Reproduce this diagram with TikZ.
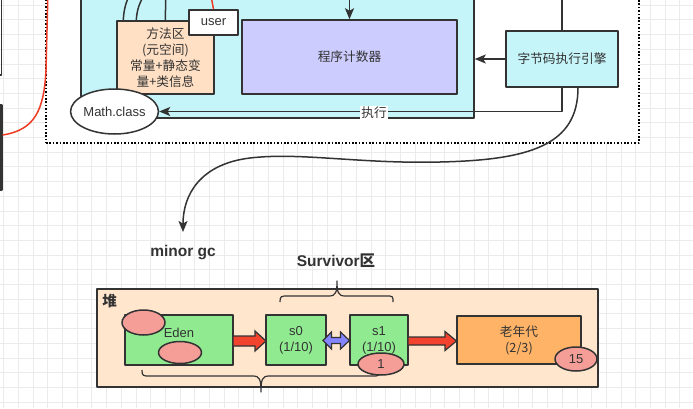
\documentclass[tikz,border=0pt]{standalone}
\usepackage{fontspec}
\setmainfont{Liberation Sans}
\newfontfamily\cjk{Noto Sans CJK SC}
\usetikzlibrary{arrows.meta,shapes.geometric}

\definecolor{ink}{HTML}{333333}
\definecolor{txt}{HTML}{333333}
\definecolor{gridgray}{HTML}{EBEBEB}
\definecolor{runcyan}{HTML}{C6F5F9}
\definecolor{peach}{HTML}{FFE0C4}
\definecolor{heapbg}{HTML}{FFE6CC}
\definecolor{lavender}{HTML}{CCCCFF}
\definecolor{edengreen}{HTML}{90EB90}
\definecolor{blob}{HTML}{F59E98}
\definecolor{oldorange}{HTML}{FFB366}
\definecolor{arrowred}{HTML}{F2432F}
\definecolor{arrowblue}{HTML}{8585FF}
\definecolor{linkred}{HTML}{EE3B24}

\tikzset{
    gridline/.style={draw=gridgray,line width=0.7pt},
    box/.style={draw=ink,line width=1.5pt,inner sep=0pt,align=center,text=txt,
        font=\fontsize{13}{16}\selectfont},
    zhbox/.style={box,font=\cjk\fontsize{12.7}{16}\selectfont},
    blobnode/.style={ellipse,box,fill=blob},
    link/.style={draw=ink,line width=1.5pt},
    redlink/.style={draw=linkred,line width=1.5pt},
    tip/.style={-{Stealth[length=11pt,width=9pt,inset=2.5pt]}},
    blockarrow/.style={draw=ink,line width=1.2pt,line join=miter},
    title/.style={text=txt,inner sep=1pt,font=\bfseries\fontsize{15.5}{18}\selectfont},
    dotframe/.style={draw=black,fill=white,line width=1.6pt,
        dash pattern=on 1.6pt off 1.8pt,inner sep=0pt}
}

\begin{document}
\begin{tikzpicture}[x=1pt,y=-1pt,line join=round]
    \useasboundingbox (0,0) rectangle (693,408);
    \clip (0,0) rectangle (693,408);
    \fill[white] (0,0) rectangle (693,408);
    %% background grid
    \foreach \gx in {0,...,47}
        \draw[gridline] ({3.6+14.7*\gx},0) -- ({3.6+14.7*\gx},408);
    \foreach \gy in {0,...,27}
        \draw[gridline] (0,{5.1+14.7*\gy}) -- (693,{5.1+14.7*\gy});

    %% boxes cut off on the left
    \node[box,minimum width=61.5pt,minimum height=135pt] (leftA) at (-29.25,7.5) {};
    \node[box,line width=2.2pt,minimum width=61.5pt,minimum height=85pt] (leftB) at (-29.25,147.5) {};

    %% runtime area
    \node[dotframe,minimum width=593pt,minimum height=203pt] (jvm) at (342.5,41.5) {};
    \coordinate (redtop) at (48,-10);
    \draw[redlink] ([yshift=12.5pt]leftB.east) .. controls (35,130) and (44,110) .. (46,70) -- (redtop);
    \node[box,fill=runcyan,minimum width=393pt,minimum height=168pt] (runtime) at (277.5,34) {};

    \node[zhbox,fill=peach,minimum width=97pt,minimum height=73pt] (method) at (165.5,57.5)
        {方法区\\(元空间)\\常量+静态变\\量+类信息};
    \draw[link] ([xshift=7pt]method.north west) .. controls (124,8) and (126,2) .. (131,-8);
    \draw[link] ([xshift=20pt]method.north west) .. controls (137,10) and (139,3) .. (146,-8);
    \coordinate (methodup) at (166,-10);
    \draw[link] ([xshift=49pt]method.north west) -- (methodup);

    \coordinate (userin) at (210,-10);
    \node[box,fill=white,minimum width=49pt,minimum height=25pt] (user) at (213.5,22.5) {user};
    \draw[redlink] (userin) -- (user.north);

    \node[zhbox,fill=lavender,minimum width=215pt,minimum height=74pt] (pc) at (349.5,57) {程序计数器};
    \coordinate (pcin) at (349.5,-10);
    \draw[link,tip] (pcin) -- (pc.north);

    \node[zhbox,fill=runcyan,minimum width=112pt,minimum height=56pt] (engine) at (562,59) {字节码执行引擎};
    \coordinate (engup) at (562,-10);
    \draw[link] (engine.north) -- (engup);
    \draw[link,tip] (engine.west) -- (engine.west -| runtime.east);

    \node[box,ellipse,fill=white,minimum width=86pt,minimum height=45pt] (math) at (114.5,111.5) {Math.class};
    \draw[link,tip] (engine.south) |- (math.east);
    \node[zhbox,draw=none,fill=white,inner sep=1pt] (exec) at (374,113) {执行};

    %% minor gc
    \coordinate (gcto) at (183,232);
    \draw[link,tip] ([xshift=16pt]engine.south) .. controls (578,145) and (530,160) .. (440,162)
        .. controls (360,164) and (300,152) .. (250,158) .. controls (200,164) and (183,195) .. (gcto);
    \node[title] (minorgc) at (183,253) {minor gc};
    \node[title] (survivor) at (336,261) {Survivor{\cjk 区}};

    %% heap
    \node[box,fill=heapbg,minimum width=501pt,minimum height=98pt] (heap) at (347.5,338) {};
    \node[title,font=\cjk\bfseries\fontsize{14.5}{17}\selectfont,anchor=north west] (heaplbl)
        at ([xshift=5pt,yshift=-5pt]heap.north west) {堆};
    \draw[link,line width=1.2pt] (280,302) .. controls (280,296) and (281,296) .. (288,296) -- (329,296)
        .. controls (336,296) and (337,292) .. (337,281) .. controls (337,292) and (338,296) .. (345,296)
        -- (386,296) .. controls (393,296) and (393,296) .. (393,302);
    \draw[link,line width=1.2pt] (142,370) .. controls (142,376) and (143,376) .. (150,376) -- (253,376)
        .. controls (260,376) and (261,380) .. (261,392) .. controls (261,380) and (262,376) .. (269,376)
        -- (372,376) .. controls (379,376) and (380,376) .. (380,370);

    \node[box,fill=edengreen,minimum width=108pt,minimum height=50pt] (eden) at (179,340) {};
    \node[blobnode,minimum width=43pt,minimum height=25pt] (blobA) at (143.5,322.5) {};
    \node[blobnode,minimum width=43pt,minimum height=22pt] (blobB) at (180,352.5) {};
    \node[text=txt,inner sep=0pt,font=\fontsize{13}{16}\selectfont] (edenlbl) at (179,333) {Eden};

    \node[box,fill=edengreen,minimum width=60pt,minimum height=50pt] (s0) at (296,340) {s0\\(1/10)};
    \node[box,fill=edengreen,minimum width=58pt,minimum height=50pt] (s1) at (379,340) {s1\\(1/10)};
    \node[zhbox,fill=oldorange,minimum width=124pt,minimum height=48pt] (old) at (519,340) {老年代\\(2/3)};
    \node[blobnode,minimum width=46pt,minimum height=22pt] (blobC) at (381,364) {1};
    \node[blobnode,minimum width=42pt,minimum height=24pt] (blobD) at (576,359) {15};

    %% block arrows
    \draw[blockarrow,fill=arrowred] (233,336) -- (255,336) -- (255,331) -- (266,341)
        -- (255,351) -- (255,346) -- (233,346) -- cycle;
    \draw[blockarrow,fill=arrowred] (408,337) -- (445,337) -- (445,331.5) -- (456.5,341)
        -- (445,350.5) -- (445,345) -- (408,345) -- cycle;
    \draw[blockarrow,fill=arrowblue] (323,340.5) -- (331.5,332) -- (331.5,337.5) -- (340.5,337.5)
        -- (340.5,332) -- (349.5,340.5) -- (340.5,349) -- (340.5,343.5) -- (331.5,343.5)
        -- (331.5,349) -- cycle;
\end{tikzpicture}
\end{document}
